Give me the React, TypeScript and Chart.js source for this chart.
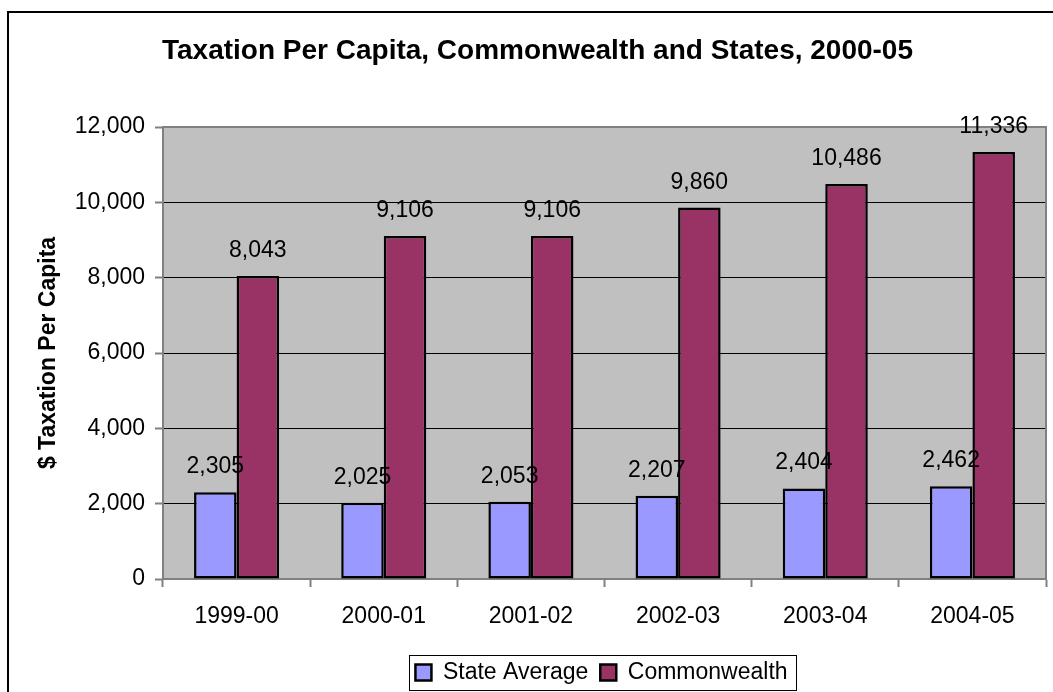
import React, { useEffect, useRef } from "react";
import { Chart, registerables } from "chart.js";

Chart.register(...registerables);

const categories = ["1999-00", "2000-01", "2001-02", "2002-03", "2003-04", "2004-05"];
const stateAverage = [2305, 2025, 2053, 2207, 2404, 2462];
const commonwealth = [8043, 9106, 9106, 9860, 10486, 11336];
const seriesNames = ["State Average", "Commonwealth"];
const chartTitle = "Taxation Per Capita, Commonwealth and States, 2000-05";
const yAxisTitle = "$ Taxation Per Capita";
const yMin = 0;
const yMax = 12000;
const yStep = 2000;

const FONT = '"Liberation Sans", Arial, Helvetica, sans-serif';

const fmt = (v: number) => String(Math.round(v)).replace(/\B(?=(\d{3})+(?!\d))/g, ",");

const plotFrame = {
  id: "plotFrame",
  beforeDraw(chart: any) {
    const { ctx, chartArea: a } = chart;
    ctx.save();
    ctx.fillStyle = "#C0C0C0";
    ctx.fillRect(a.left, a.top, a.right - a.left, a.bottom - a.top);
    ctx.restore();
  },
  beforeDatasetsDraw(chart: any) {
    const { ctx, chartArea: a } = chart;
    ctx.save();
    ctx.strokeStyle = "#808080";
    ctx.lineWidth = 2;
    ctx.beginPath();
    ctx.moveTo(a.left, a.top);
    ctx.lineTo(a.right, a.top);
    ctx.lineTo(a.right, a.bottom);
    ctx.stroke();
    ctx.restore();
  },
};

const valueLabels = {
  id: "valueLabels",
  afterDatasetsDraw(chart: any) {
    const { ctx } = chart;
    ctx.save();
    ctx.font = `23px ${FONT}`;
    ctx.fillStyle = "#000";
    ctx.textAlign = "center";
    ctx.textBaseline = "alphabetic";
    chart.data.datasets.forEach((ds: any, di: number) => {
      const meta = chart.getDatasetMeta(di);
      meta.data.forEach((bar: any, i: number) => {
        ctx.fillText(fmt(ds.data[i]), bar.x, bar.y - 19);
      });
    });
    ctx.restore();
  },
};

const legendPlace = {
  id: "legendPlace",
  afterLayout(chart: any) {
    const lg = chart.legend;
    if (!lg) return;
    lg.left += 64;
    lg.right += 64;
    lg.top += 2;
    lg.bottom += 2;
  },
  afterDraw(chart: any) {
    const lg = chart.legend;
    if (!lg || !lg.legendHitBoxes || !lg.legendHitBoxes.length) return;
    const hb = lg.legendHitBoxes;
    const first = hb[0];
    const last = hb[hb.length - 1];
    const cy = first.top + first.height / 2;
    const { ctx } = chart;
    ctx.save();
    ctx.strokeStyle = "#000";
    ctx.lineWidth = 1;
    const l = Math.round(first.left - 6) + 0.5;
    const r = Math.round(last.left + last.width + 8) + 0.5;
    const t = Math.round(cy - 17.5) + 0.5;
    const b = Math.round(cy + 17.5) + 0.5;
    ctx.strokeRect(l, t, r - l, b - t);
    ctx.restore();
  },
};

export default function App() {
  const ref = useRef<HTMLCanvasElement | null>(null);

  useEffect(() => {
    if (!ref.current) return;
    const chart = new Chart(ref.current, {
      type: "bar",
      data: {
        labels: categories,
        datasets: [
          {
            label: seriesNames[0],
            data: stateAverage,
            backgroundColor: "#9999FF",
            borderColor: "#000",
            borderWidth: 2.5,
            borderSkipped: false,
            barPercentage: 1,
            categoryPercentage: 0.578,
          },
          {
            label: seriesNames[1],
            data: commonwealth,
            backgroundColor: "#993366",
            borderColor: "#000",
            borderWidth: 2.5,
            borderSkipped: false,
            barPercentage: 1,
            categoryPercentage: 0.578,
          },
        ],
      },
      options: {
        responsive: false,
        maintainAspectRatio: false,
        animation: false,
        devicePixelRatio: 1,
        layout: { padding: { left: 29, right: 7, top: 0, bottom: 0 } },
        plugins: {
          title: {
            display: true,
            text: chartTitle,
            color: "#000",
            font: { size: 28, weight: "bold", family: FONT },
            padding: { top: 34, bottom: 59.4 },
          },
          legend: {
            display: true,
            position: "bottom",
            labels: {
              color: "#000",
              font: { size: 23, family: FONT },
              boxWidth: 16,
              boxHeight: 16,
              padding: 12,
            },
          },
          tooltip: { enabled: false },
        },
        scales: {
          x: {
            offset: true,
            ticks: { color: "#000", font: { size: 23, family: FONT }, padding: 16, maxRotation: 0 },
            grid: {
              drawOnChartArea: false,
              drawTicks: true,
              tickLength: 8,
              offset: true,
              tickColor: "#808080",
              tickWidth: 2,
            },
            border: { color: "#808080", width: 2 },
            afterFit(scale: any) {
              scale.height = 68;
            },
          },
          y: {
            min: yMin,
            max: yMax,
            ticks: {
              stepSize: yStep,
              color: "#000",
              font: { size: 23, family: FONT },
              padding: 10,
              callback: (v: any) => fmt(Number(v)),
            },
            grid: {
              color: (c: any) => (c.tick && c.tick.value === 0 ? "#808080" : "#000"),
              lineWidth: 1,
              drawTicks: true,
              tickLength: 8,
              tickColor: "#808080",
              tickWidth: 2,
            },
            border: { color: "#808080", width: 2 },
            title: {
              display: true,
              text: yAxisTitle,
              color: "#000",
              font: { size: 23, weight: "bold", family: FONT },
              padding: { top: 6, bottom: 0 },
            },
            afterFit(scale: any) {
              scale.width = 134;
            },
          },
        },
      },
      plugins: [plotFrame, valueLabels, legendPlace],
    });
    return () => chart.destroy();
  }, []);

  return (
    <div
      style={{
        position: "fixed",
        left: 0,
        top: 0,
        width: 1053,
        height: 692,
        overflow: "hidden",
        background: "#fff",
      }}
    >
      <div
        style={{
          position: "absolute",
          left: 7,
          top: 11,
          width: 1200,
          height: 800,
          border: "2px solid #000",
        }}
      />
      <canvas
        ref={ref}
        width={1053}
        height={692}
        style={{ position: "absolute", left: 0, top: 0, width: 1053, height: 692 }}
      />
    </div>
  );
}
